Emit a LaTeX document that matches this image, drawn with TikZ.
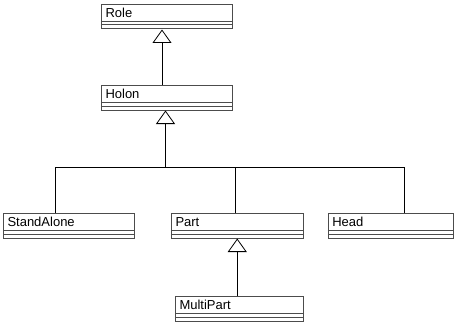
\documentclass[tikz,border=0pt]{standalone}
\usepackage{fontspec}
\setmainfont{Liberation Sans}
\usetikzlibrary{arrows.meta}

\begin{document}
\begin{tikzpicture}[x=1pt,y=-1pt,
  class/.style={draw=black!70,line width=1pt,anchor=north west,align=left,
    inner xsep=4pt,inner ysep=3.2pt,text height=9.5pt,text depth=8.6pt,
    font=\fontsize{13}{15}\selectfont},
  link/.style={line width=0.8pt},
  inherit/.style={link,-{Triangle[open,length=13.5pt,width=19pt]}}]
\useasboundingbox (0,0) rectangle (454,321);

\node[class,text width=123pt] (role) at (101,4) {Role};
\node[class,text width=123pt] (holon) at (101,85) {Holon};
\node[class,text width=123pt] (standalone) at (3,213) {StandAlone};
\node[class,text width=123.5pt] (part) at (171,213) {Part};
\node[class,text width=117.5pt] (head) at (327.75,213) {Head};
\node[class,text width=120pt] (multipart) at (175,296) {MultiPart};

% attribute and operation compartments
\foreach \c in {role,holon,standalone,part,head,multipart}
  \draw[draw=black!70,line width=1pt]
    ([yshift=8pt]\c.south west) -- ([yshift=8pt]\c.south east)
    ([yshift=4.5pt]\c.south west) -- ([yshift=4.5pt]\c.south east);

\draw[inherit] ([xshift=-5pt]holon.north) -- ([xshift=-5pt]role.south);

\coordinate (fork) at (165.5,167.3);
\draw[inherit] (fork) -- (holon.south -| fork);
\draw[link] ([xshift=-14pt]standalone.north) |- ([xshift=13.5pt]head.north |- fork)
  -- ([xshift=13.5pt]head.north);
\draw[link] ([xshift=-1.5pt]part.north) -- ([xshift=-1.5pt]part.north |- fork);

\draw[inherit] (multipart.north -| part.south) -- (part.south);

\end{tikzpicture}
\end{document}
